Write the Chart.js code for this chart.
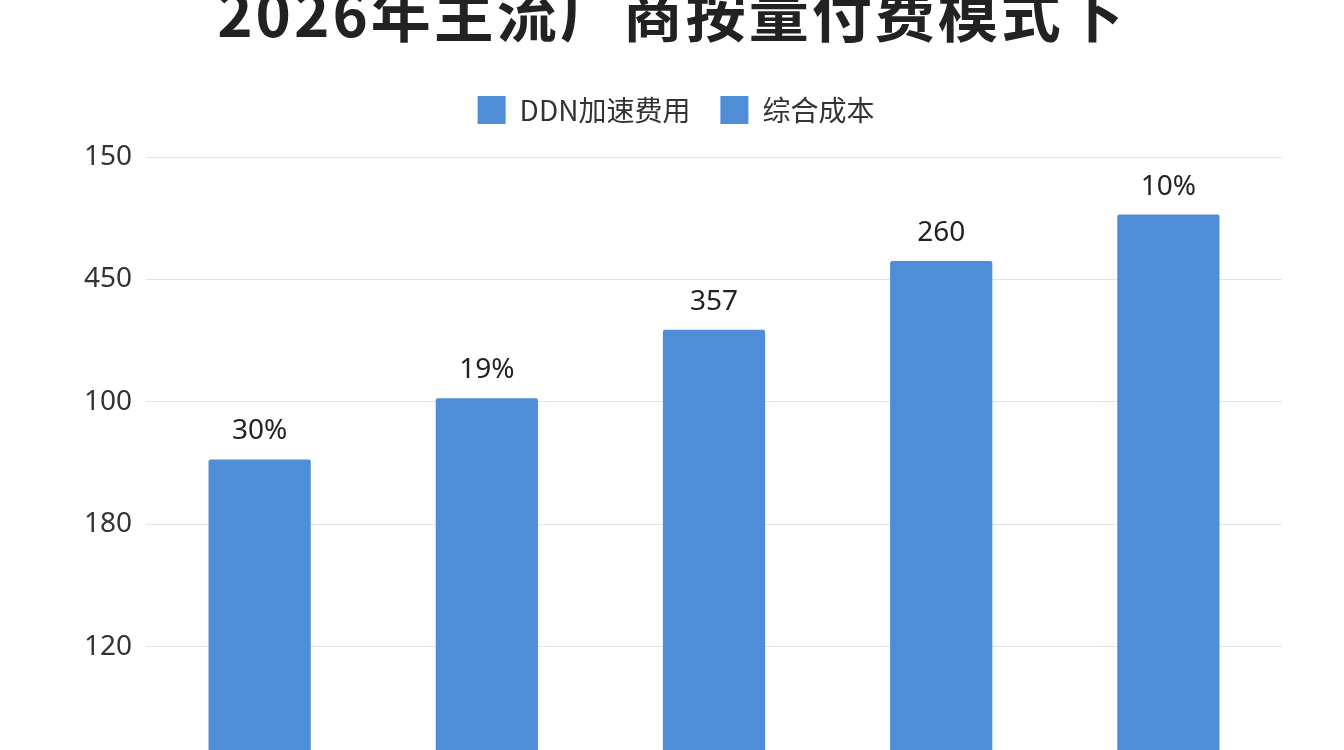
<!DOCTYPE html>
<html><head><meta charset="utf-8">
<script src="https://cdn.jsdelivr.net/npm/chart.js@4/dist/chart.umd.min.js"></script>
<style>
body{margin:0;background:#fff;overflow:hidden;font-family:"Noto Sans CJK SC","Noto Sans",sans-serif}
#t{position:absolute;top:-33px;left:0;width:1344px;text-align:center;font-size:60px;font-weight:700;color:#222;margin:0;letter-spacing:3px}
#w{position:absolute;top:0;left:0;width:1344px;height:800px}
</style></head><body>
<div id="w"><canvas id="c"></canvas></div>
<h1 id="t">2026年主流厂商按量付费模式下</h1>
<script>
const categories=["A","B","C","D","E"];
const seriesValues=[2.53,3.03,3.59,4.15,4.53];
const barLabels=["30%","19%","357","260","10%"];
const tickLabels=["","120","180","100","450","150"];
const seriesNames=["DDN加速费用","综合成本"];
const color="#4f8ed6";
const lbl={id:"lbl",afterDatasetsDraw(ch){const ctx=ch.ctx;const m=ch.getDatasetMeta(0);ctx.save();ctx.font='28px "Noto Sans","Noto Sans CJK SC"';ctx.fillStyle="#222";ctx.textAlign="center";ctx.textBaseline="bottom";m.data.forEach((b,i)=>ctx.fillText(barLabels[i],b.x,b.y-14));ctx.restore();}};
const legSpace={id:"legSpace",beforeInit(ch){const f=ch.legend.fit;ch.legend.fit=function(){f.bind(ch.legend)();this.height+=23;};}};
new Chart(document.getElementById("c"),{type:"bar",
data:{labels:categories,datasets:[{label:seriesNames[0],data:seriesValues,backgroundColor:color,barPercentage:0.9,categoryPercentage:0.5,borderRadius:2},{label:seriesNames[1],data:[],backgroundColor:color}]},
options:{responsive:true,maintainAspectRatio:false,animation:false,
layout:{padding:{top:66,right:62,bottom:28,left:70}},
plugins:{legend:{labels:{font:{size:28,family:'"Noto Sans CJK SC"'},color:"#333",boxWidth:28,boxHeight:28,padding:30}},tooltip:{enabled:false}},
scales:{x:{display:false,stacked:true},y:{min:0,max:5,ticks:{stepSize:1,callback:(v)=>tickLabels[v],font:{size:28,family:'"Noto Sans"'},color:"#333",padding:14},grid:{color:"#e3e3e3",drawTicks:false},border:{display:false}}}},
plugins:[lbl,legSpace]});
</script></body></html>
